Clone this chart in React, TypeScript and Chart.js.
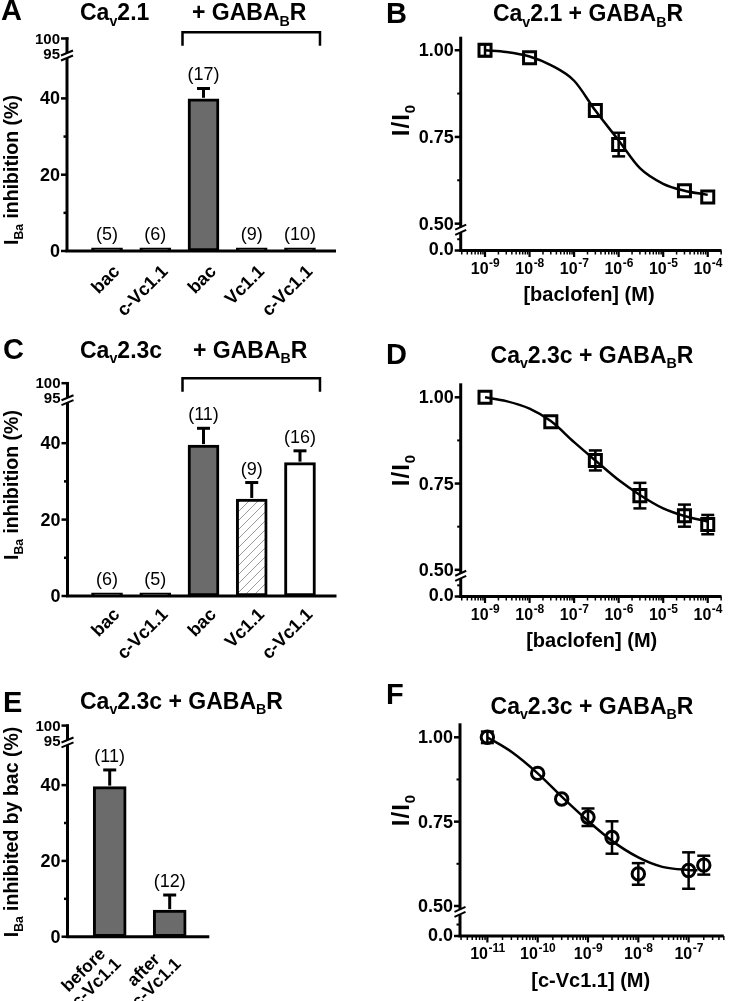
import React, { useEffect, useRef } from 'react';
import { Chart, registerables } from 'chart.js';

Chart.register(...registerables);

const FONT = '"Liberation Sans", Arial, Helvetica, sans-serif';
const GRAY = '#6b6b6b';

// ---------------- Panel A : CaV2.1 (bar) ----------------
const catsA = ['bac', 'c-Vc1.1', 'bac', 'Vc1.1', 'c-Vc1.1'];
const valsA = [0.8, 0.8, 39.9, 0.8, 0.8];
const errA = [0, 0, 2.7, 0, 0];
const nA = [5, 6, 17, 9, 10];

// ---------------- Panel C : CaV2.3c (bar) ----------------
const catsC = ['bac', 'c-Vc1.1', 'bac', 'Vc1.1', 'c-Vc1.1'];
const valsC = [0.8, 0.8, 39.5, 25.4, 34.9];
const errC = [0, 0, 4.4, 4.3, 3.1];
const nC = [6, 5, 11, 9, 16];

// ---------------- Panel E : before / after (bar) ----------------
const catsE = [['before', 'c-Vc1.1'], ['after', 'c-Vc1.1']];
const valsE = [39.6, 7.0];
const errE = [4.4, 4.0];
const nE = [11, 12];

// broken y axis of the bar panels (95 and 100 sit above the break)
const barMajorTicks = [0, 20, 40];
const barMinorTicks = [10, 30];
const barUpperTickLabels = ['95', '100'];
const barUpperTickPos = [51.8, 55.7];
const barBreak = [50.6, 51.9];

// ---------------- Panel B : CaV2.1 + GABAB, baclofen ----------------
const concB = [1e-9, 1e-8, 3e-7, 1e-6, 3e-5, 1e-4];
const ratioB = [1.0, 0.978, 0.826, 0.728, 0.595, 0.577];
const semB = [0.017, 0, 0, 0.034, 0, 0];
const fitConcB = [1e-9, 3e-9, 1e-8, 3e-8, 1e-7, 3e-7, 1e-6, 3e-6, 1e-5, 3e-5, 1e-4];
const fitB = [1.0, 0.995, 0.982, 0.957, 0.912, 0.826, 0.74, 0.66, 0.615, 0.595, 0.583];

// ---------------- Panel D : CaV2.3c + GABAB, baclofen ----------------
const concD = [1e-9, 3e-8, 3e-7, 3e-6, 3e-5, 1e-4];
const ratioD = [1.0, 0.929, 0.817, 0.715, 0.657, 0.631];
const semD = [0, 0, 0.029, 0.037, 0.032, 0.028];
const fitConcD = [1e-9, 3e-9, 1e-8, 3e-8, 1e-7, 3e-7, 1e-6, 3e-6, 1e-5, 3e-5, 1e-4];
const fitD = [1.0, 0.989, 0.967, 0.931, 0.87, 0.817, 0.76, 0.717, 0.678, 0.656, 0.64];

// ---------------- Panel F : CaV2.3c + GABAB, c-Vc1.1 ----------------
const concF = [1e-11, 1e-10, 3e-10, 1e-9, 3e-9, 1e-8, 1e-7, 2e-7];
const ratioF = [1.0, 0.893, 0.817, 0.763, 0.703, 0.595, 0.605, 0.621];
const semF = [0.017, 0, 0, 0.026, 0.048, 0.032, 0.054, 0.028];
const fitConcF = [1e-11, 3e-11, 1e-10, 3e-10, 1e-9, 3e-9, 1e-8, 3e-8, 1e-7, 1.5e-7];
const fitF = [1.0, 0.957, 0.893, 0.824, 0.752, 0.693, 0.644, 0.616, 0.607, 0.606];

// dose-response axes
const doseTickVals = [0.5, 0.75, 1.0];
const doseTickLabels = ['0.50', '0.75', '1.00'];
const doseMinorTicks = [0.625, 0.875];
const doseZeroLabel = '0.0';
const doseBreak = [0.475, 0.49];
const decadesBD = [-9, -8, -7, -6, -5, -4];
const decadesF = [-11, -10, -9, -8, -7];

type Rect = { L: number; T: number; W: number; H: number };
type Area = { l: number; r: number; t: number; b: number };

function pad(r: Rect, a: Area) {
  return { left: a.l - r.L, right: r.L + r.W - a.r, top: a.t - r.T, bottom: r.T + r.H - a.b };
}

function seg(ctx: CanvasRenderingContext2D, x1: number, y1: number, x2: number, y2: number) {
  ctx.beginPath();
  ctx.moveTo(x1, y1);
  ctx.lineTo(x2, y2);
  ctx.stroke();
}

function makeHatch(): CanvasPattern | string {
  const c = document.createElement('canvas');
  c.width = 9;
  c.height = 9;
  const g = c.getContext('2d');
  if (!g) return '#fff';
  g.fillStyle = '#fff';
  g.fillRect(0, 0, 9, 9);
  g.strokeStyle = '#9a9a9a';
  g.lineWidth = 1;
  g.beginPath();
  g.moveTo(-1, 10); g.lineTo(10, -1);
  g.moveTo(-1, 1); g.lineTo(1, -1);
  g.moveTo(8, 10); g.lineTo(10, 8);
  g.stroke();
  const p = g.createPattern(c, 'repeat');
  return p || '#fff';
}

type BarCfg = {
  rect: Rect;
  axisX: number;
  xEnd: number;
  vals: number[];
  errs: number[];
  ns: number[];
  lab: { dx: number; dy: number; lh: number; size: number };
  bracketY?: number;
};

function barDecor(cfg: BarCfg) {
  return {
    id: 'barDecor',
    afterDraw(chart: any) {
      const ctx: CanvasRenderingContext2D = chart.ctx;
      const xs = chart.scales.x, ys = chart.scales.y;
      const { L, T } = cfg.rect;
      const X = (i: number) => xs.getPixelForValue(i) + L;
      const Y = (v: number) => ys.getPixelForValue(v) + T;
      ctx.save();
      ctx.translate(-L, -T);
      ctx.strokeStyle = '#000';
      ctx.fillStyle = '#000';
      ctx.lineCap = 'butt';
      const ax = cfg.axisX;
      const y0 = Y(0);

      // error bars (upper half)
      ctx.lineWidth = 3;
      cfg.vals.forEach((v, i) => {
        const e = cfg.errs[i];
        if (!e) return;
        const px = X(i);
        const yt = Y(v + e);
        seg(ctx, px, Y(v) - 1, px, yt);
        seg(ctx, px - 6.5, yt, px + 6.5, yt);
      });

      // n labels
      ctx.font = `18px ${FONT}`;
      ctx.textAlign = 'center';
      ctx.textBaseline = 'alphabetic';
      cfg.vals.forEach((v, i) => {
        const yt = Y(v + cfg.errs[i]);
        ctx.fillText(`(${cfg.ns[i]})`, X(i), yt - 8);
      });

      // axes
      ctx.lineWidth = 3;
      seg(ctx, ax - 1.5, y0, cfg.xEnd, y0);
      seg(ctx, ax, y0, ax, Y(barBreak[0]));
      seg(ctx, ax, Y(barBreak[1]), ax, Y(barUpperTickPos[1]) - 1.2);
      ctx.lineWidth = 2;
      barBreak.forEach((b) => seg(ctx, ax - 6, Y(b) + 2.5, ax + 6, Y(b) - 2.5));

      // y ticks
      ctx.lineWidth = 2.5;
      barMajorTicks.forEach((v) => seg(ctx, ax - 6, Y(v), ax, Y(v)));
      barMinorTicks.forEach((v) => seg(ctx, ax - 3.5, Y(v), ax, Y(v)));
      seg(ctx, ax - 6, Y(barUpperTickPos[1]), ax + 1.5, Y(barUpperTickPos[1]));

      ctx.textAlign = 'right';
      ctx.textBaseline = 'middle';
      ctx.font = `bold 18px ${FONT}`;
      barMajorTicks.forEach((v) => ctx.fillText(String(v), ax - 7, Y(v) + 1));
      ctx.font = `bold 15px ${FONT}`;
      barUpperTickLabels.forEach((s, k) => ctx.fillText(s, ax - 7, Y(barUpperTickPos[k]) + 1));

      // rotated category labels
      ctx.font = `bold ${cfg.lab.size}px ${FONT}`;
      ctx.textBaseline = 'middle';
      (chart.data.labels as any[]).forEach((lab, i) => {
        const lines: string[] = Array.isArray(lab) ? lab : [lab];
        const maxW = Math.max(...lines.map((s) => ctx.measureText(s).width));
        ctx.save();
        ctx.translate(X(i) + cfg.lab.dx, y0 + cfg.lab.dy);
        ctx.rotate(-Math.PI / 4);
        ctx.textAlign = 'center';
        lines.forEach((s, j) => ctx.fillText(s, -maxW / 2, j * cfg.lab.lh));
        ctx.restore();
      });

      // bracket over the GABAB-R group
      if (cfg.bracketY !== undefined) {
        const x1 = X(2) - 21;
        const x2 = X(4) + 20;
        const by = cfg.bracketY;
        ctx.lineWidth = 2.5;
        ctx.beginPath();
        ctx.moveTo(x1, by + 13.5);
        ctx.lineTo(x1, by);
        ctx.lineTo(x2, by);
        ctx.lineTo(x2, by + 13.5);
        ctx.stroke();
      }
      ctx.restore();
    },
  };
}

type DoseCfg = {
  rect: Rect;
  xs: number[];
  ys: number[];
  errs: number[];
  decades: number[];
  lowMinor: number;
};

function doseDecor(cfg: DoseCfg) {
  return {
    id: 'doseDecor',
    afterDraw(chart: any) {
      const ctx: CanvasRenderingContext2D = chart.ctx;
      const sx = chart.scales.x, sy = chart.scales.y;
      const { L, T } = cfg.rect;
      const X = (v: number) => sx.getPixelForValue(v) + L;
      const Y = (v: number) => sy.getPixelForValue(v) + T;
      ctx.save();
      ctx.translate(-L, -T);
      ctx.strokeStyle = '#000';
      ctx.fillStyle = '#000';
      ctx.lineCap = 'butt';
      const ax = sx.left + L;
      const ay = sy.bottom + T;
      const right = sx.right + L;
      const top = sy.top + T;

      // error bars
      ctx.lineWidth = 2.5;
      cfg.xs.forEach((xv, i) => {
        const e = cfg.errs[i];
        if (!e) return;
        const px = X(xv);
        const y1 = Y(cfg.ys[i] + e);
        const y2 = Y(cfg.ys[i] - e);
        seg(ctx, px, y1, px, y2);
        seg(ctx, px - 6.5, y1, px + 6.5, y1);
        seg(ctx, px - 6.5, y2, px + 6.5, y2);
      });

      // axes
      ctx.lineWidth = 3;
      seg(ctx, ax - 1.5, ay, right, ay);
      seg(ctx, ax, ay, ax, Y(doseBreak[0]));
      seg(ctx, ax, Y(doseBreak[1]), ax, top);
      ctx.lineWidth = 2;
      doseBreak.forEach((b) => seg(ctx, ax - 5.5, Y(b) + 2.5, ax + 5.5, Y(b) - 2.5));

      // y ticks
      ctx.lineWidth = 2.5;
      doseTickVals.forEach((v) => seg(ctx, ax - 6, Y(v), ax, Y(v)));
      seg(ctx, ax - 6, ay, ax, ay);
      ctx.lineWidth = 2;
      doseMinorTicks.forEach((v) => seg(ctx, ax - 3.5, Y(v), ax, Y(v)));
      seg(ctx, ax - 3.5, Y(cfg.lowMinor), ax, Y(cfg.lowMinor));

      ctx.font = `bold 18px ${FONT}`;
      ctx.textAlign = 'right';
      ctx.textBaseline = 'middle';
      doseTickVals.forEach((v, k) => ctx.fillText(doseTickLabels[k], ax - 7, Y(v) + 1));
      ctx.fillText(doseZeroLabel, ax - 7, ay);

      // x ticks (log)
      const lmin = Math.log10(sx.min);
      const lmax = Math.log10(sx.max);
      for (let k = Math.floor(lmin); k <= Math.ceil(lmax); k++) {
        for (let m = 1; m <= 9; m++) {
          const v = m * Math.pow(10, k);
          const lv = Math.log10(v);
          if (lv < lmin || lv > lmax) continue;
          const px = X(v);
          if (m === 1) {
            ctx.lineWidth = 2.2;
            seg(ctx, px, ay, px, ay + 6.5);
          } else {
            ctx.lineWidth = 1.5;
            seg(ctx, px, ay, px, ay + 4);
          }
        }
      }
      ctx.textAlign = 'left';
      ctx.textBaseline = 'alphabetic';
      cfg.decades.forEach((d) => {
        const px = X(Math.pow(10, d));
        ctx.font = `bold 16px ${FONT}`;
        const w1 = ctx.measureText('10').width;
        ctx.font = `bold 12px ${FONT}`;
        const e = String(d);
        const w2 = ctx.measureText(e).width;
        const x0 = px - (w1 + w2) / 2;
        ctx.font = `bold 16px ${FONT}`;
        ctx.fillText('10', x0, ay + 23);
        ctx.font = `bold 12px ${FONT}`;
        ctx.fillText(e, x0 + w1 + 0.5, ay + 16);
      });
      ctx.restore();
    },
  };
}

function barConfig(
  rect: Rect,
  area: Area,
  labels: any[],
  vals: number[],
  colors: any[],
  thickness: number,
  decor: any
) {
  return {
    type: 'bar',
    data: {
      labels,
      datasets: [
        {
          data: vals,
          backgroundColor: colors,
          borderColor: '#000',
          borderWidth: 3,
          borderSkipped: false,
          barThickness: thickness,
        },
      ],
    },
    options: {
      responsive: false,
      maintainAspectRatio: false,
      animation: false,
      devicePixelRatio: 1,
      events: [],
      layout: { padding: pad(rect, area) },
      plugins: { legend: { display: false }, tooltip: { enabled: false }, title: { display: false } },
      scales: {
        x: { type: 'category', display: false, offset: true },
        y: { type: 'linear', display: false, min: 0, max: 55.7 },
      },
    },
    plugins: [decor],
  };
}

function doseConfig(
  rect: Rect,
  area: Area,
  xr: [number, number],
  yr: [number, number],
  conc: number[],
  ratio: number[],
  fitX: number[],
  fitY: number[],
  style: string,
  radius: number,
  decor: any
) {
  return {
    type: 'scatter',
    data: {
      datasets: [
        {
          label: 'data',
          data: conc.map((x, i) => ({ x, y: ratio[i] })),
          pointStyle: style,
          pointRadius: radius,
          pointBorderWidth: 3,
          pointBorderColor: '#000',
          pointBackgroundColor: 'rgba(0,0,0,0)',
          showLine: false,
          order: 0,
        },
        {
          label: 'fit',
          data: fitX.map((x, i) => ({ x, y: fitY[i] })),
          showLine: true,
          pointRadius: 0,
          borderColor: '#000',
          borderWidth: 2.5,
          cubicInterpolationMode: 'monotone',
          fill: false,
          order: 1,
        },
      ],
    },
    options: {
      responsive: false,
      maintainAspectRatio: false,
      animation: false,
      devicePixelRatio: 1,
      events: [],
      layout: { padding: pad(rect, area) },
      plugins: { legend: { display: false }, tooltip: { enabled: false }, title: { display: false } },
      scales: {
        x: { type: 'logarithmic', display: false, min: xr[0], max: xr[1], bounds: 'data' },
        y: { type: 'linear', display: false, min: yr[0], max: yr[1], bounds: 'data' },
      },
    },
    plugins: [decor],
  };
}

function ChartCanvas({ rect, build }: { rect: Rect; build: () => any }) {
  const ref = useRef<HTMLCanvasElement>(null);
  useEffect(() => {
    if (!ref.current) return;
    const chart = new Chart(ref.current, build());
    return () => chart.destroy();
  }, []);
  return (
    <canvas
      ref={ref}
      width={rect.W}
      height={rect.H}
      style={{ position: 'absolute', left: rect.L, top: rect.T, width: rect.W, height: rect.H }}
    />
  );
}

const Sub = ({ children }: { children: any }) => (
  <span style={{ fontSize: '0.62em', position: 'relative', top: '0.38em' }}>{children}</span>
);

const Txt = ({
  left,
  baseline,
  size,
  center,
  children,
  weight = 'bold',
}: {
  left: number;
  baseline: number;
  size: number;
  center?: boolean;
  children: any;
  weight?: string;
}) => (
  <div
    style={{
      position: 'absolute',
      left,
      top: baseline - 0.8465 * size,
      fontSize: size,
      lineHeight: 1,
      fontWeight: weight as any,
      fontFamily: FONT,
      whiteSpace: 'nowrap',
      color: '#000',
      transform: center ? 'translateX(-50%)' : undefined,
    }}
  >
    {children}
  </div>
);

const VTxt = ({ cx, cy, size, spacing, children }: { cx: number; cy: number; size: number; spacing?: number; children: any }) => (
  <div
    style={{
      position: 'absolute',
      left: cx,
      top: cy,
      transform: 'translate(-50%, -50%) rotate(-90deg)',
      fontSize: size,
      lineHeight: 1,
      fontWeight: 'bold',
      fontFamily: FONT,
      whiteSpace: 'nowrap',
      letterSpacing: spacing,
      color: '#000',
    }}
  >
    {children}
  </div>
);

// canvases (bar canvases are a little taller so rotated labels are not cut)
const rA: Rect = { L: 0, T: 0, W: 366, H: 332 };
const rB: Rect = { L: 366, T: 0, W: 367, H: 318 };
const rC: Rect = { L: 0, T: 318, W: 366, H: 352 };
const rD: Rect = { L: 366, T: 318, W: 367, H: 340 };
const rE: Rect = { L: 0, T: 658, W: 366, H: 343 };
const rF: Rect = { L: 366, T: 658, W: 367, H: 343 };

export default function App() {
  const hatch = makeHatch();
  const buildA = () =>
    barConfig(rA, { l: 82.9, r: 324.1, t: 38.5, b: 251 }, catsA, valsA, [GRAY, GRAY, GRAY, GRAY, GRAY], 31,
      barDecor({ rect: rA, axisX: 67, xEnd: 336, vals: valsA, errs: errA, ns: nA, lab: { dx: 10, dy: 18, lh: 18, size: 18 }, bracketY: 32.3 }));
  const buildC = () =>
    barConfig(rC, { l: 82.9, r: 324.1, t: 383.2, b: 596 }, catsC, valsC, [GRAY, GRAY, GRAY, hatch, '#fff'], 31,
      barDecor({ rect: rC, axisX: 67.5, xEnd: 336.5, vals: valsC, errs: errC, ns: nC, lab: { dx: 10, dy: 16, lh: 18, size: 18 }, bracketY: 378.3 }));
  const buildE = () =>
    barConfig(rE, { l: 79.7, r: 199.7, t: 725.6, b: 936.7 }, catsE, valsE, [GRAY, GRAY], 33,
      barDecor({ rect: rE, axisX: 67.5, xEnd: 209.3, vals: valsE, errs: errE, ns: nE, lab: { dx: -4, dy: 12, lh: 18, size: 17.5 } }));
  const buildB = () =>
    doseConfig(rB, { l: 460.7, r: 730, t: 36.7, b: 250.5 }, [Math.pow(10, -9.546), Math.pow(10, -3.691)], [0.4226, 1.039],
      concB, ratioB, fitConcB, fitB, 'rect', 8.5,
      doseDecor({ rect: rB, xs: concB, ys: ratioB, errs: semB, decades: decadesBD, lowMinor: 0.455 }));
  const buildD = () =>
    doseConfig(rD, { l: 460.7, r: 730, t: 383.3, b: 596.5 }, [Math.pow(10, -9.546), Math.pow(10, -3.691)], [0.4226, 1.0406],
      concD, ratioD, fitConcD, fitD, 'rect', 8.5,
      doseDecor({ rect: rD, xs: concD, ys: ratioD, errs: semD, decades: decadesBD, lowMinor: 0.455 }));
  const buildF = () =>
    doseConfig(rF, { l: 460, r: 730, t: 723.3, b: 936 }, [Math.pow(10, -11.544), Math.pow(10, -6.301)], [0.411, 1.0415],
      concF, ratioF, fitConcF, fitF, 'circle', 6.2,
      doseDecor({ rect: rF, xs: concF, ys: ratioF, errs: semF, decades: decadesF, lowMinor: 0.445 }));

  return (
    <div style={{ position: 'absolute', left: 0, top: 0, width: 733, height: 1001, background: '#fff', overflow: 'hidden' }}>
      <ChartCanvas rect={rA} build={buildA} />
      <ChartCanvas rect={rB} build={buildB} />
      <ChartCanvas rect={rC} build={buildC} />
      <ChartCanvas rect={rD} build={buildD} />
      <ChartCanvas rect={rE} build={buildE} />
      <ChartCanvas rect={rF} build={buildF} />

      {/* panel letters */}
      <Txt left={1} baseline={21} size={29}>A</Txt>
      <Txt left={386} baseline={24} size={29}>B</Txt>
      <Txt left={3} baseline={360} size={29}>C</Txt>
      <Txt left={386} baseline={365} size={29}>D</Txt>
      <Txt left={3} baseline={713} size={29}>E</Txt>
      <Txt left={386} baseline={705} size={29}>F</Txt>

      {/* titles */}
      <Txt left={80} baseline={20.7} size={23}>Ca<Sub>v</Sub>2.1</Txt>
      <Txt left={192} baseline={20.7} size={23}>+ GABA<Sub>B</Sub>R</Txt>
      <Txt left={588} baseline={21.7} size={23} center>Ca<Sub>v</Sub>2.1 + GABA<Sub>B</Sub>R</Txt>
      <Txt left={80} baseline={358.3} size={23}>Ca<Sub>v</Sub>2.3c</Txt>
      <Txt left={193} baseline={358.3} size={23}>+ GABA<Sub>B</Sub>R</Txt>
      <Txt left={592} baseline={363.3} size={23} center>Ca<Sub>v</Sub>2.3c + GABA<Sub>B</Sub>R</Txt>
      <Txt left={80} baseline={709} size={23}>Ca<Sub>v</Sub>2.3c + GABA<Sub>B</Sub>R</Txt>
      <Txt left={592} baseline={714} size={23} center>Ca<Sub>v</Sub>2.3c + GABA<Sub>B</Sub>R</Txt>

      {/* y axis titles */}
      <VTxt cx={12} cy={170} size={19.5}>I<Sub>Ba</Sub> inhibition (%)</VTxt>
      <VTxt cx={12} cy={485} size={19.5}>I<Sub>Ba</Sub> inhibition (%)</VTxt>
      <VTxt cx={12} cy={832} size={19.5}>I<Sub>Ba</Sub> inhibited by bac (%)</VTxt>
      <VTxt cx={401} cy={120} size={24} spacing={1}>I/I<Sub>0</Sub></VTxt>
      <VTxt cx={401} cy={470} size={24} spacing={1}>I/I<Sub>0</Sub></VTxt>
      <VTxt cx={401} cy={810} size={24} spacing={1}>I/I<Sub>0</Sub></VTxt>

      {/* x axis titles */}
      <Txt left={589} baseline={300.5} size={20} center>[baclofen] (M)</Txt>
      <Txt left={591.7} baseline={647} size={20} center>[baclofen] (M)</Txt>
      <Txt left={590.7} baseline={987} size={20} center>[c-Vc1.1] (M)</Txt>
    </div>
  );
}
